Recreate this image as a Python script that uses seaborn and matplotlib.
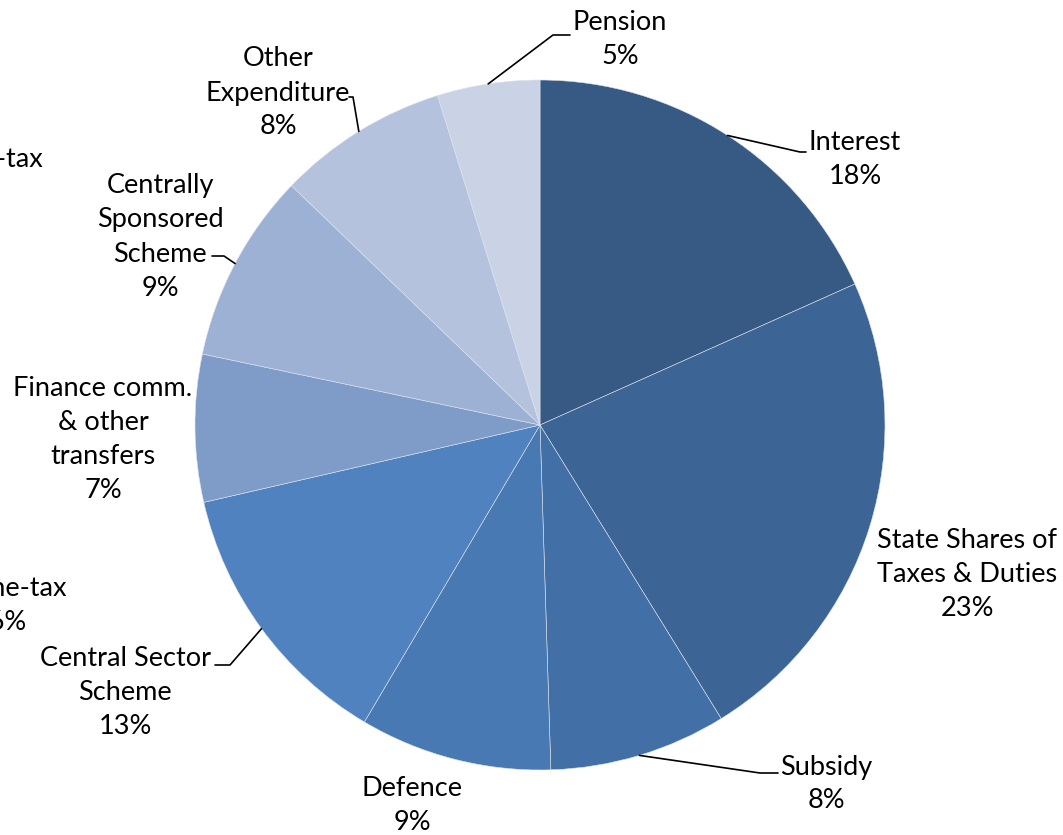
import matplotlib
matplotlib.use("Agg")
import matplotlib.pyplot as plt
import seaborn as sns
import numpy as np

sns.set_theme(style="white")
plt.rcParams['font.family'] = ['Lato', 'DejaVu Sans']

# ---- data ----
categories = ["Interest", "State Shares of\nTaxes & Duties", "Subsidy", "Defence",
              "Central Sector\nScheme", "Finance comm.\n& other\ntransfers",
              "Centrally\nSponsored\nScheme", "Other\nExpenditure", "Pension"]
shares = [18.3, 22.9, 8.3, 9.0, 12.9, 6.9, 8.9, 8.0, 4.8]
colors = ["#365A83", "#3C6595", "#4270A6", "#4879B3", "#4F82BE",
          "#7F9CC9", "#9DB1D4", "#B4C2DD", "#CAD3E5"]
# labels of a neighbouring (cropped) chart
side_labels = ["Corporation-tax\n21%", "Income-tax\n16%"]

W, H = 1063, 835
fig = plt.figure(figsize=(W / 100, H / 100), dpi=100)
ax = fig.add_axes([0, 0, 1, 1])

cx, cy, R = 540, H - 425, 345
wedges, _ = ax.pie(shares, colors=colors, startangle=90, counterclock=False,
                   center=(cx, cy), radius=R, frame=True,
                   wedgeprops=dict(edgecolor="#DDE3EE", linewidth=0.4))
ax.set_xlim(0, W)
ax.set_ylim(0, H)
ax.set_aspect("equal")
ax.axis("off")

# label layout (pixel positions from top-left): text centre, leader elbows
label_pos = [(855, 160), (967, 575), (826, 784), (412, 805), (125, 692),
             (103, 440), (160, 237), (278, 93), (620, 40)]
leaders = {
    0: [(800, 152), (806, 152)],
    2: [(760, 773), (778, 773)],
    4: [(230, 665), (215, 665)],
    6: [(224, 256), (212, 256)],
    7: [(353, 97), (349, 97)],
    8: [(553, 35), (570, 35)],
}

fs = 19.5
ls = 1.45
for i, (w, lab, val) in enumerate(zip(wedges, categories, shares)):
    mid = np.deg2rad((w.theta1 + w.theta2) / 2)
    px, py = cx + R * np.cos(mid), cy + R * np.sin(mid)
    tx, ty = label_pos[i]
    ax.text(tx, H - ty, f"{lab}\n{round(val)}%", ha="center", va="center",
            fontsize=fs, color="black", linespacing=ls)
    if i in leaders:
        pts = [(px, py)] + [(x, H - y) for x, y in leaders[i]]
        ax.plot([p[0] for p in pts], [p[1] for p in pts], color="black", lw=1.2)

# cropped labels at the left edge
ax.text(-52, H - 177, side_labels[0], ha="center", va="center", fontsize=fs,
        color="black", linespacing=ls, clip_on=False)
ax.text(0, H - 605, side_labels[1], ha="center", va="center", fontsize=fs,
        color="black", linespacing=ls, clip_on=False)

fig.savefig("out.png", dpi=100, facecolor="white")
